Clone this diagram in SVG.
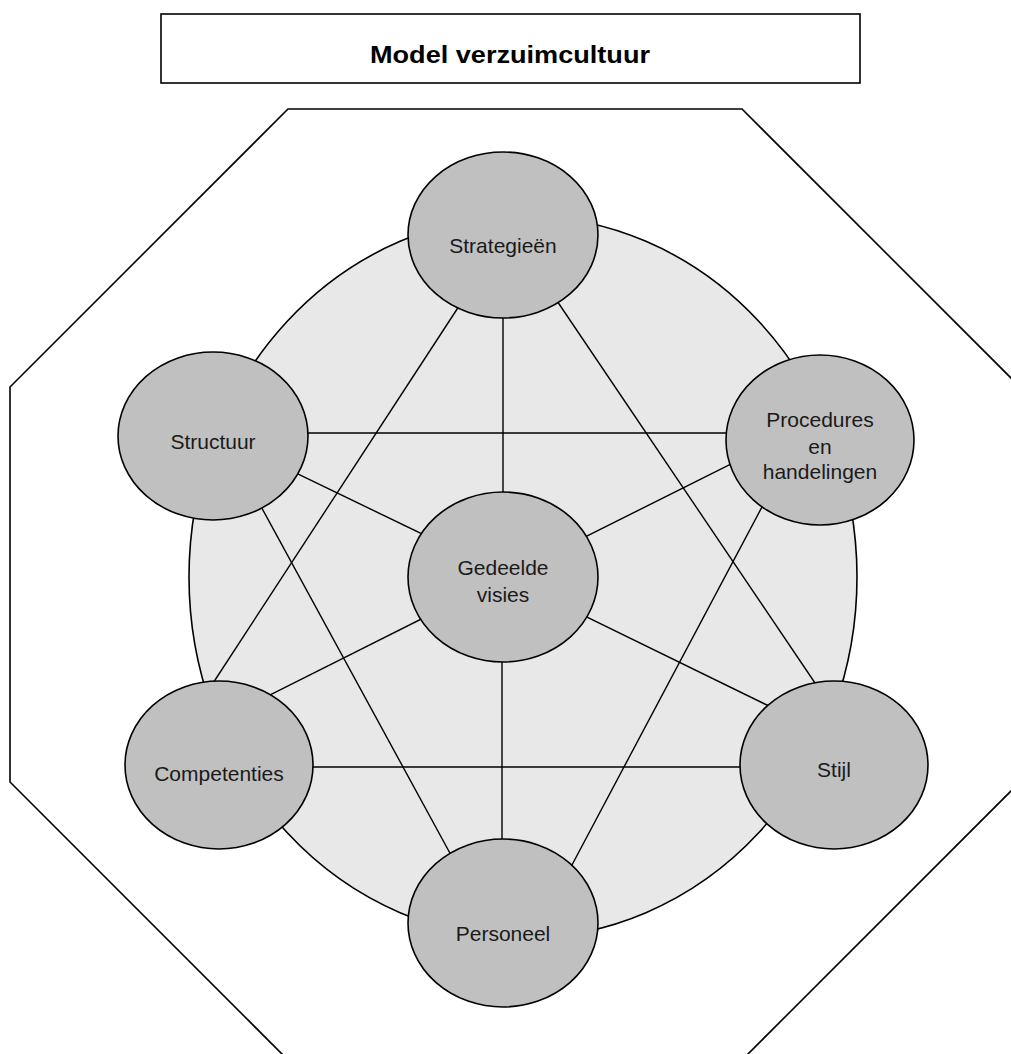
<svg xmlns="http://www.w3.org/2000/svg" width="1011" height="1054" viewBox="0 0 1011 1054">
<style>
.frame{fill:none;stroke:#000;stroke-width:1.6}
.node ellipse{fill:#c0c0c0;stroke:#000;stroke-width:1.6}
.node text{font-family:"Liberation Sans",Arial,sans-serif;font-size:21px;fill:#1a1a1a;text-anchor:middle}
#connectors line{stroke:#000;stroke-width:1.4}
.title{font-family:"Liberation Sans",Arial,sans-serif;font-weight:bold;font-size:24px;fill:#000;text-anchor:middle}
</style>
<rect width="1011" height="1054" fill="#fff"/>
<g id="title">
<rect class="frame" x="161" y="14" width="699" height="69"/>
<text class="title" x="510" y="63" textLength="280" lengthAdjust="spacingAndGlyphs">Model verzuimcultuur</text>
</g>
<polygon id="octagon" class="frame" points="288,109 742,109 1020,387 1020,782 747,1055 283,1055 10,782 10,387"/>
<ellipse id="background" cx="523" cy="577" rx="334" ry="361" fill="#e8e8e8" stroke="#000" stroke-width="1.6"/>
<g id="connectors">
<line x1="503" y1="235" x2="503" y2="578"/>
<line x1="463" y1="300" x2="202" y2="700"/>
<line x1="553" y1="295" x2="826.5" y2="700"/>
<line x1="213" y1="433" x2="820" y2="433"/>
<line x1="213" y1="433" x2="503" y2="573"/>
<line x1="252" y1="490" x2="464.6" y2="880"/>
<line x1="503" y1="578" x2="800" y2="429.5"/>
<line x1="771" y1="490" x2="564" y2="880"/>
<line x1="219" y1="767" x2="834" y2="767"/>
<line x1="230" y1="715" x2="503" y2="578"/>
<line x1="503" y1="576" x2="820" y2="731"/>
<line x1="502" y1="578" x2="502" y2="923"/>
</g>
<g id="n-strategieen" class="node">
<ellipse cx="503" cy="235" rx="95" ry="83"/>
<text x="503" y="253">Strategieën</text>
</g>
<g id="n-structuur" class="node">
<ellipse cx="213" cy="436" rx="95" ry="84"/>
<text x="213" y="449">Structuur</text>
</g>
<g id="n-procedures" class="node">
<ellipse cx="820" cy="440" rx="94" ry="85"/>
<text x="820" y="427">Procedures</text>
<text x="820" y="454">en</text>
<text x="820" y="479">handelingen</text>
</g>
<g id="n-gedeelde" class="node">
<ellipse cx="503" cy="577" rx="95" ry="85"/>
<text x="503" y="575">Gedeelde</text>
<text x="503" y="602">visies</text>
</g>
<g id="n-competenties" class="node">
<ellipse cx="219" cy="765" rx="94" ry="84"/>
<text x="219" y="781">Competenties</text>
</g>
<g id="n-stijl" class="node">
<ellipse cx="834" cy="765" rx="94" ry="84"/>
<text x="834" y="777">Stijl</text>
</g>
<g id="n-personeel" class="node">
<ellipse cx="503" cy="923" rx="95" ry="84"/>
<text x="503" y="941">Personeel</text>
</g>
</svg>
